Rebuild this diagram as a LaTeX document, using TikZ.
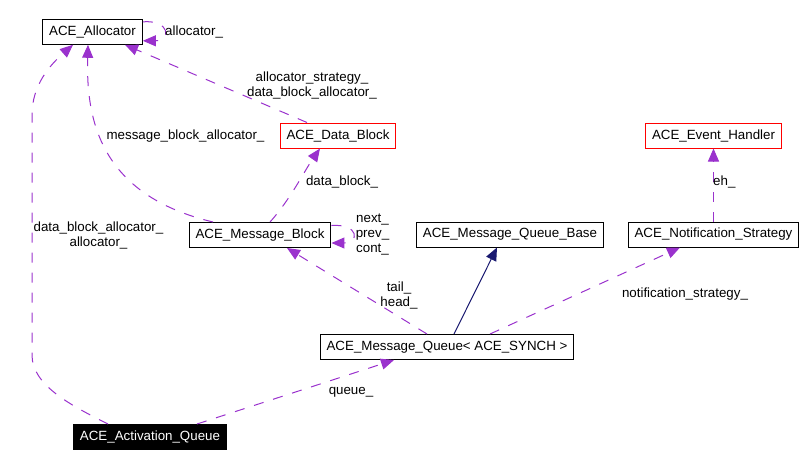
\documentclass[tikz,border=0pt]{standalone}
\usepackage{fontspec}
\setmainfont{Liberation Sans}
\usetikzlibrary{arrows.meta}
\definecolor{nutztfarbe}{HTML}{9A32CD}
\definecolor{erbtfarbe}{HTML}{191970}

\begin{document}
\begin{tikzpicture}[x=1pt, y=-1pt, >={Triangle[length=13pt, width=11pt]},
    klasse/.style={draw, line width=1pt, inner xsep=6.5pt, inner ysep=0pt,
        minimum height=25pt, font=\fontsize{13.33}{15}\selectfont},
    nutzt/.style={->, nutztfarbe, line width=1pt, dash pattern=on 10pt off 10pt},
    erbt/.style={->, erbtfarbe, line width=1pt},
    lbl/.style={font=\fontsize{13.33}{15}\selectfont, align=center, inner sep=0pt}]
    \useasboundingbox (0,0) rectangle (804,467);

    % Klassen
    \node[klasse] (alloc) at (92.5,31.8) {ACE\_Allocator};
    \node[klasse, draw=red] (datablk) at (338,135.5) {ACE\_Data\_Block};
    \node[klasse, draw=red] (evh) at (713.5,135.5) {ACE\_Event\_Handler};
    \node[klasse] (msgblk) at (260,235) {ACE\_Message\_Block};
    \node[klasse] (mqbase) at (510,234.5) {ACE\_Message\_Queue\_Base};
    \node[klasse] (notif) at (713.5,234.5) {ACE\_Notification\_Strategy};
    \node[klasse] (mqueue) at (447,347) {ACE\_Message\_Queue< ACE\_SYNCH >};
    \node[klasse, fill=black, text=white] (actq) at (150,437) {ACE\_Activation\_Queue};

    % Beziehungen
    \draw[nutzt] ([yshift=-3pt]alloc.north east) .. controls +(28,-2) and +(28,0) .. ([yshift=4pt]alloc.south east);
    \draw[nutzt] ([xshift=-31pt]datablk.north) -- ([xshift=32.5pt]alloc.south);
    \draw[nutzt] ([xshift=-47pt]msgblk.north) .. controls (100,195) and (86,120) .. ([xshift=-4.5pt]alloc.south);
    \draw[nutzt] ([xshift=10pt]msgblk.north) .. controls (290,200) and (305,170) .. ([xshift=-18pt]datablk.south);
    \draw[nutzt] ([yshift=-3.5pt]msgblk.north east) .. controls +(28,-2) and +(28,0) .. ([yshift=5pt]msgblk.south east);
    \draw[nutzt] ([xshift=-20pt]mqueue.north) -- ([xshift=27pt]msgblk.south);
    \draw[erbt] ([xshift=7pt]mqueue.north) -- ([xshift=-13pt]mqbase.south);
    \draw[nutzt] ([xshift=43pt]mqueue.north) -- ([xshift=-33.5pt]notif.south);
    \draw[nutzt] (notif.north) -- (evh.south);
    \draw[nutzt] ([xshift=-42pt]actq.north) .. controls (70,405) and (32,385) .. (32,355)
        -- (32,115) .. controls (32,85) and (50,65) .. ([xshift=-19.5pt]alloc.south);
    \draw[nutzt] ([xshift=47pt]actq.north) -- ([xshift=-53pt]mqueue.south);

    % Beschriftungen
    \node[lbl, anchor=west] (l1) at (165,32) {allocator\_};
    \node[lbl] (l2) at (312,85) {allocator\_strategy\_\\data\_block\_allocator\_};
    \node[lbl] (l3) at (185.5,136) {message\_block\_allocator\_};
    \node[lbl] (l4) at (342,182) {data\_block\_};
    \node[lbl] (l5) at (372.5,235) {next\_\\prev\_\\cont\_};
    \node[lbl] (l6) at (399,295) {tail\_\\head\_};
    \node[lbl] (l7) at (685,294) {notification\_strategy\_};
    \node[lbl, anchor=west] (l8) at (713,182) {eh\_};
    \node[lbl] (l9) at (98.5,235) {data\_block\_allocator\_\\allocator\_};
    \node[lbl] (l10) at (351,392) {queue\_};
\end{tikzpicture}
\end{document}
